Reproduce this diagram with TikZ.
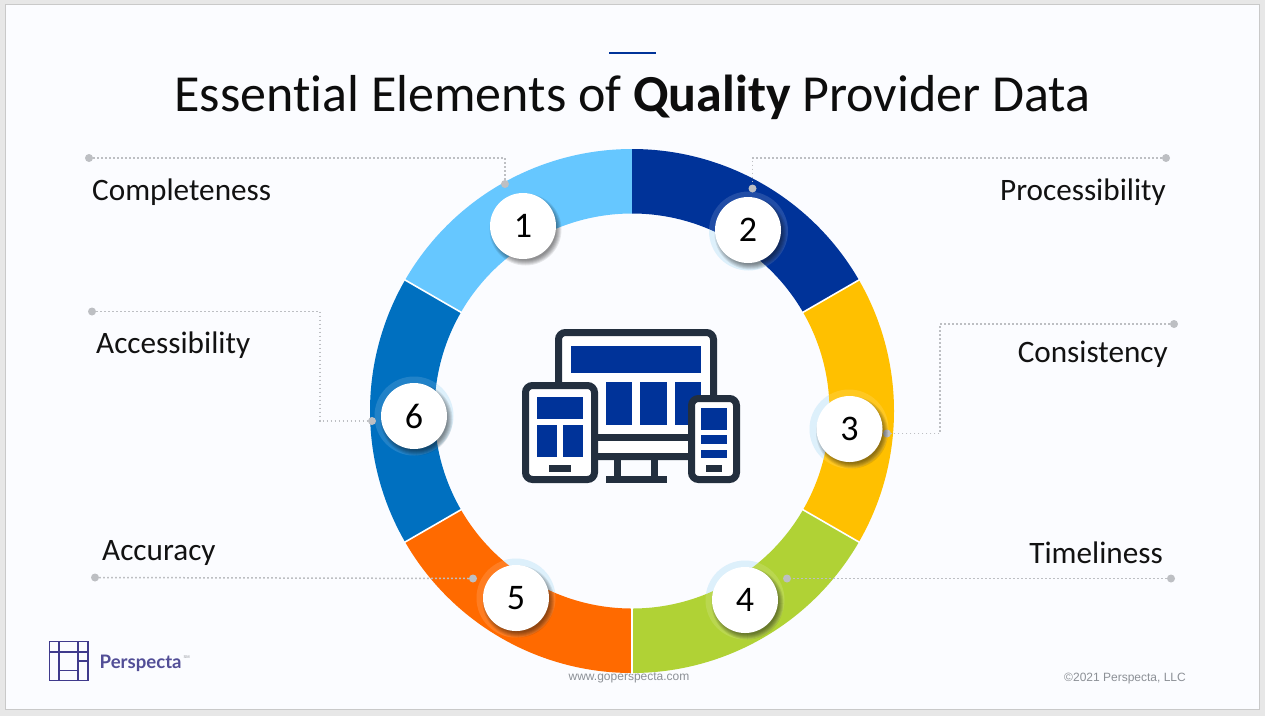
\documentclass[tikz,border=0pt]{standalone}
\usepackage{fontspec}
\setmainfont[Ligatures=NoCommon]{Carlito}
\newfontfamily\arialfont{Liberation Sans}
\newfontfamily\logofont{Lato}
\definecolor{pagegray}{HTML}{E7E7E7}
\definecolor{slidebg}{HTML}{FBFCFF}
\definecolor{slideedge}{HTML}{C9C9C9}
\definecolor{segA}{HTML}{66C7FF}
\definecolor{segB}{HTML}{003399}
\definecolor{segC}{HTML}{FFC000}
\definecolor{segD}{HTML}{B0D235}
\definecolor{segE}{HTML}{FF6A00}
\definecolor{segF}{HTML}{0070C0}
\definecolor{halo}{HTML}{D9EEFB}
\definecolor{leader}{HTML}{BDBFC3}
\definecolor{icondark}{HTML}{232F3E}
\definecolor{logoblue}{HTML}{3F3A8C}
\definecolor{foot}{HTML}{8C9096}
\tikzset{
  x=1pt,y=-1pt,
  leaderline/.style={draw=leader,line width=1.5pt,dash pattern=on 1.7pt off 2.3pt},
  leaderdot/.style={circle,fill=leader,inner sep=0pt,minimum size=8pt},
  itemlabel/.style={font=\fontsize{31.2}{32}\selectfont,inner sep=0pt,text=black!93},
  badge/.style={circle,fill=white,inner sep=0pt,minimum size=66pt,font=\fontsize{36}{36}\selectfont,text=black},
  frameshape/.style={draw=icondark,fill=white,line width=7pt,rounded corners=7pt},
  iconblue/.style={fill=segB},
  icondk/.style={fill=icondark},
  logoline/.style={draw=logoblue,line width=1.5pt},
}
\newcommand{\ringseg}[3]{%
  \fill[#3] ({632+262*cos(#1)},{411-262*sin(#1)}) arc[start angle=#1,end angle=#2,radius=262pt]
    -- ({632+197.5*cos(#2)},{411-197.5*sin(#2)}) arc[start angle=#2,end angle=#1,radius=197.5pt] -- cycle;}
\newcommand{\ringsep}[1]{%
  \draw[white,line width=1.6pt] ({632+196*cos(#1)},{411-196*sin(#1)}) -- ({632+263*cos(#1)},{411-263*sin(#1)});}
\newcommand{\softshadow}[2]{%
  \foreach \r in {31,32,33,34,35,36}{\fill[black,opacity=.085] (#1+2.5,#2+3.5) circle[radius=\r pt];}}
\begin{document}
\begin{tikzpicture}
\useasboundingbox (0,0) rectangle (1265,716);
\fill[pagegray] (0,0) rectangle (1265,716);
\draw[slideedge,fill=slidebg,line width=1pt] (5,4) rectangle (1259,709);

% title
\draw[segB,line width=2.6pt] (609,53) -- (656,53);
\node[anchor=base,inner sep=0pt,font=\fontsize{52}{54}\selectfont,text=black!95] (title) at (632.5,111) {Essential Elements of \textbf{Quality} Provider Data};

% footer (the ring covers the top of the web address)
\node[anchor=base,inner sep=0pt,font=\arialfont\fontsize{12}{14}\selectfont,text=foot] (web) at (629,680) {www.goperspecta.com};
\node[anchor=base east,inner sep=0pt,font=\arialfont\fontsize{12}{14}\selectfont,text=foot] (copy) at (1186,681) {©2021 Perspecta, LLC};

% halos beneath the ring
\foreach \p in {(748.5,231),(849,429),(745,600),(516,598),(414,416)}{\fill[halo] \p circle[radius=39.5pt];}

% ring
\ringseg{90}{150}{segA}
\ringseg{30}{90}{segB}
\ringseg{-30}{30}{segC}
\ringseg{-90}{-30}{segD}
\ringseg{-150}{-90}{segE}
\ringseg{150}{210}{segF}
\foreach \a in {30,-30,-90,-150,150}{\ringsep{\a}}

% halos tint the ring
\foreach \p in {(748.5,231),(849,429),(745,600),(516,598),(414,416)}{\fill[white,opacity=.13] \p circle[radius=39.5pt];}

% leaders
\node[leaderdot] (d1a) at (89,158) {};
\node[leaderdot] (d1b) at (505,184) {};
\node[leaderdot] (d2a) at (1166,158) {};
\node[leaderdot] (d2b) at (752.5,188.5) {};
\node[leaderdot] (d3a) at (1174,324) {};
\node[leaderdot] (d3b) at (887,433.5) {};
\node[leaderdot] (d4a) at (1171,578.5) {};
\node[leaderdot] (d4b) at (787,578.5) {};
\node[leaderdot] (d5a) at (95,577.5) {};
\node[leaderdot] (d5b) at (473,578.5) {};
\node[leaderdot] (d6a) at (92,311.5) {};
\node[leaderdot] (d6b) at (372,421) {};
\coordinate (k1) at (505,158);
\coordinate (k2) at (752.5,158);
\coordinate (k3a) at (940,324);
\coordinate (k3b) at (940,433.5);
\coordinate (k6a) at (320,311.5);
\coordinate (k6b) at (320,421);
\draw[leaderline] (d1a) -- (k1) -- (d1b);
\draw[leaderline] (d2a) -- (k2) -- (d2b);
\draw[leaderline] (d3a) -- (k3a) -- (k3b) -- (d3b);
\draw[leaderline] (d4a) -- (d4b);
\draw[leaderline] (d5a) -- (d5b);
\draw[leaderline] (d6a) -- (k6a) -- (k6b) -- (d6b);

% badges
\softshadow{523}{226}
\softshadow{748}{230}
\softshadow{849.5}{429}
\softshadow{745}{600}
\softshadow{516}{598}
\softshadow{414}{416}
\node[badge] (b1) at (523,226) {1};
\node[badge] (b2) at (748,230) {2};
\node[badge] (b3) at (849.5,429) {3};
\node[badge] (b4) at (745,600) {4};
\node[badge] (b5) at (516,598) {5};
\node[badge] (b6) at (414,416) {6};

% labels
\node[itemlabel,anchor=base west] (l1) at (92,200) {Completeness};
\node[itemlabel,anchor=base east] (l2) at (1166,200) {Processibility};
\node[itemlabel,anchor=base east] (l3) at (1168,362) {Consistency};
\node[itemlabel,anchor=base east] (l4) at (1163,563) {Timeliness};
\node[itemlabel,anchor=base west] (l5) at (102,560) {Accuracy};
\node[itemlabel,anchor=base west] (l6) at (96,353) {Accessibility};

% centre icon: monitor
\draw[frameshape] (558.5,332.5) rectangle (713.5,456.5);
\draw[icondark,line width=7pt] (558.5,437.5) -- (713.5,437.5);
\fill[iconblue] (571,346) rectangle (701,372.7);
\fill[iconblue] (606,382) rectangle (632,425);
\fill[iconblue] (640,382) rectangle (667,425);
\fill[iconblue] (675,382) rectangle (701,425);
\fill[icondk] (614,460) rectangle (621,477);
\fill[icondk] (651,460) rectangle (658,477);
\fill[icondk] (606,476) rectangle (667,483);
% tablet
\draw[frameshape] (525.5,385.5) rectangle (594.5,479.5);
\fill[iconblue] (537,397) rectangle (583,419);
\fill[iconblue] (537,425) rectangle (557,457);
\fill[iconblue] (563,425) rectangle (583,457);
\fill[icondk] (549,465) rectangle (571,472);
% phone
\draw[frameshape] (691.5,398.5) rectangle (736.5,479.5);
\fill[iconblue] (701,408) rectangle (727,430);
\fill[iconblue] (701,435) rectangle (727,444);
\fill[iconblue] (701,450) rectangle (727,458);
\fill[icondk] (706,465) rectangle (722,472);

% logo
\draw[logoline] (49.5,641.5) rectangle (88,680.5);
\draw[logoline] (59,641.5) -- (59,680.5);
\draw[logoline] (78,641.5) -- (78,680.5);
\draw[logoline] (49.5,652) -- (88,652);
\draw[logoline] (78,661) -- (88,661);
\draw[logoline] (59,670.7) -- (78,670.7);
\node[anchor=base west,inner sep=0pt,font=\logofont\bfseries\fontsize{18.6}{20}\selectfont,text=logoblue!90!white] (logo) at (99.5,668) {Perspecta};
\node[anchor=base west,inner sep=0pt,font=\arialfont\fontsize{4}{4}\selectfont,text=foot] (sm) at (183.5,658) {SM};
\end{tikzpicture}
\end{document}
